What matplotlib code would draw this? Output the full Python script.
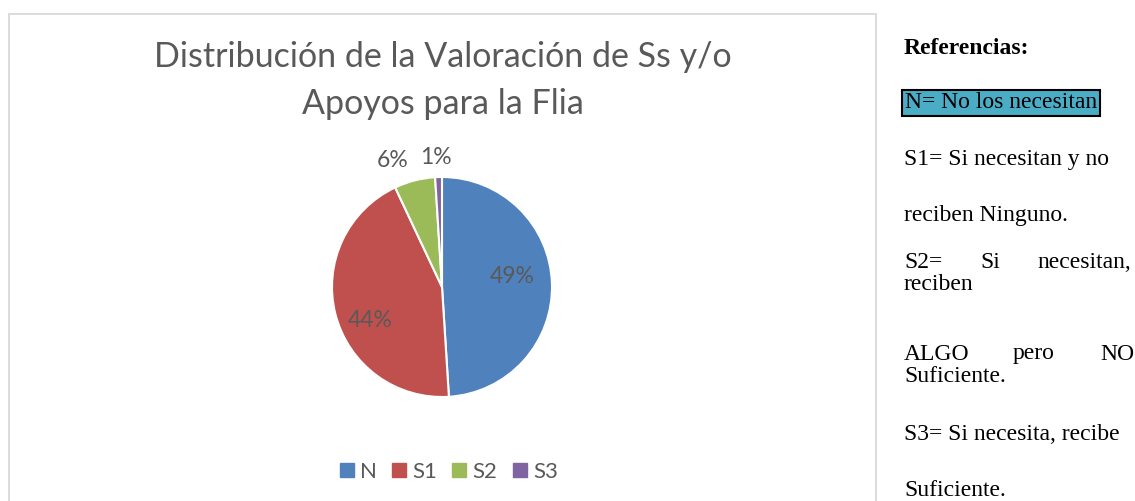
import matplotlib
matplotlib.use("Agg")
import matplotlib.pyplot as plt
from matplotlib.patches import Rectangle
import numpy as np

# data
labels = ["N", "S1", "S2", "S3"]
values = [49, 44, 6, 1]
colors = ["#4F81BD", "#C0504D", "#9BBB59", "#8064A2"]
title = "Distribución de la Valoración de Ss y/o\nApoyos para la Flia"

W, H = 1135, 501
fig = plt.figure(figsize=(W / 100, H / 100), dpi=100)
fig.patch.set_facecolor("white")

def fx(x):
    return x / W

def fy(y):
    return 1 - y / H

grey = "#595959"
sans = ["Lato", "DejaVu Sans"]
serif = ["Liberation Serif", "DejaVu Serif"]

# chart frame (open at the bottom)
fig.patches.append(Rectangle((fx(9), fy(520)), fx(876) - fx(9), fy(14) - fy(520),
                             transform=fig.transFigure, fill=False,
                             edgecolor="#D9D9D9", linewidth=1.3))

for i, line in enumerate(title.split("\n")):
    fig.text(fx(443), fy(67 + 47 * i), line, ha="center", va="baseline",
             fontsize=24.5, color=grey, family=sans)

# pie
cx, cy, r = 442, 287, 110
ax = fig.add_axes([fx(cx - r), fy(cy + r), 2 * r / W, 2 * r / H])
wedges, _ = ax.pie(values, colors=colors, startangle=90, counterclock=False,
                   wedgeprops=dict(edgecolor="white", linewidth=1.5))
ax.set_xlim(-1, 1)
ax.set_ylim(-1, 1)
ax.axis("off")

# label distance (radius units) and angular shift (deg) per slice
dists = [0.65, 0.72, 1.24, 1.18]
shifts = [7, 11, 7, 1]
for w, v, d, s in zip(wedges, values, dists, shifts):
    ang = np.deg2rad((w.theta1 + w.theta2) / 2 + s)
    ax.text(d * np.cos(ang), d * np.sin(ang), f"{v}%", ha="center", va="center",
            fontsize=16.5, color=grey, family=sans, clip_on=False)

# legend
handles = [plt.Line2D([], [], marker="s", linestyle="", markersize=10,
                      markerfacecolor=c, markeredgecolor=c) for c in colors]
fig.legend(handles, labels, loc="center", bbox_to_anchor=(fx(449), fy(472)),
           ncol=4, frameon=False, handletextpad=0.3, columnspacing=0.7,
           handlelength=0.6, prop=dict(family=sans, size=16), labelcolor=grey)

# references text
fs = 17
fig.text(fx(904), fy(48), "Referencias:", fontsize=fs, family=serif,
         weight="bold", va="center")
fig.text(fx(905), fy(103), "N= No los necesitan", fontsize=fs, family=serif,
         va="center", bbox=dict(boxstyle="square,pad=0.12", facecolor="#4BACC6",
                                edgecolor="black", linewidth=1.5))
fig.text(fx(904), fy(159), "S1= Si necesitan y no", fontsize=fs, family=serif, va="center")
fig.text(fx(904), fy(215), "reciben Ninguno.", fontsize=fs, family=serif, va="center")
fig.text(fx(904), fy(262), "S2=", fontsize=fs, family=serif, va="center")
fig.text(fx(980), fy(262), "Si", fontsize=fs, family=serif, va="center")
fig.text(fx(1131), fy(262), "necesitan,", fontsize=fs, family=serif, va="center", ha="right")
fig.text(fx(904), fy(284), "reciben", fontsize=fs, family=serif, va="center")
fig.text(fx(904), fy(354), "ALGO", fontsize=fs, family=serif, va="center")
fig.text(fx(1013), fy(354), "pero", fontsize=fs, family=serif, va="center")
fig.text(fx(1134), fy(354), "NO", fontsize=fs, family=serif, va="center", ha="right")
fig.text(fx(904), fy(376), "Suficiente.", fontsize=fs, family=serif, va="center")
fig.text(fx(904), fy(435), "S3= Si necesita, recibe", fontsize=fs, family=serif, va="center")
fig.text(fx(904), fy(490), "Suficiente.", fontsize=fs, family=serif, va="center")

fig.savefig("out.png", dpi=100)
